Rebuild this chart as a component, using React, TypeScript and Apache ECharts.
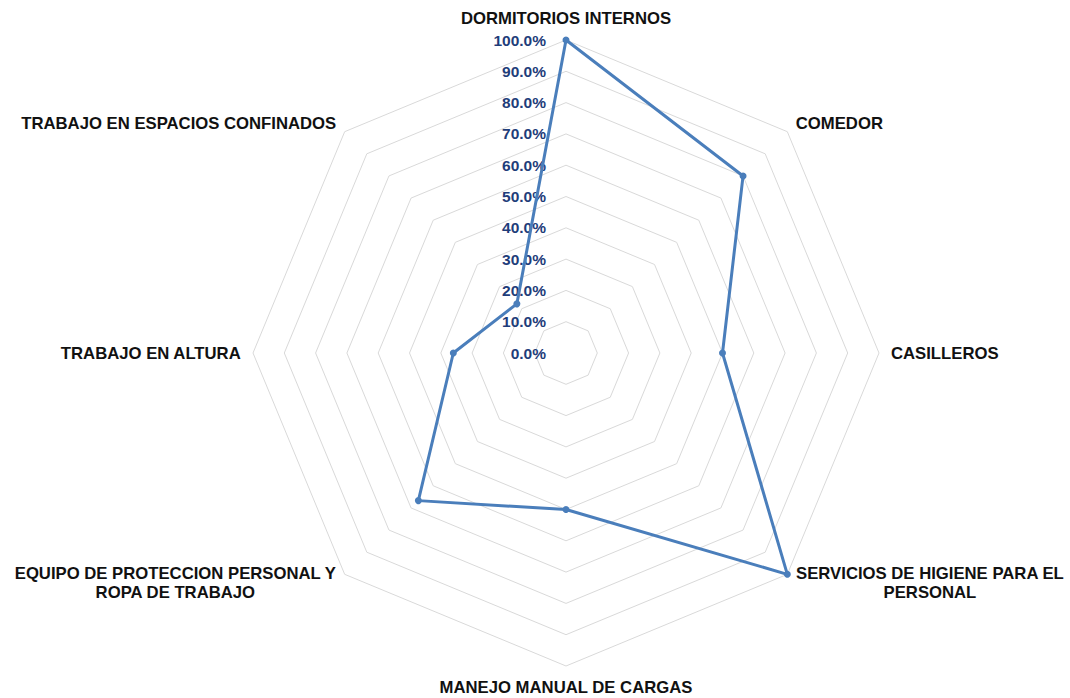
import React, { useEffect, useRef } from "react";
import * as echarts from "echarts";

// Categories in clockwise order starting from the top
const categories = [
  "DORMITORIOS INTERNOS",
  "COMEDOR",
  "CASILLEROS",
  "SERVICIOS DE HIGIENE PARA EL\nPERSONAL",
  "MANEJO MANUAL DE CARGAS",
  "EQUIPO DE PROTECCION PERSONAL Y\nROPA DE TRABAJO",
  "TRABAJO EN ALTURA",
  "TRABAJO EN ESPACIOS CONFINADOS",
];

// Percent values, same clockwise order
const values = [100, 80, 50, 100, 50, 66.7, 36, 22.2];

const tickLabels = [
  "0.0%", "10.0%", "20.0%", "30.0%", "40.0%", "50.0%",
  "60.0%", "70.0%", "80.0%", "90.0%", "100.0%",
];

const AXIS_MAX = 100;

// ECharts places radar indicators counter-clockwise; reorder for clockwise display
function toEchartsOrder<T>(arr: T[]): T[] {
  return [arr[0], ...arr.slice(1).reverse()];
}

const FONT = "Liberation Sans, Arial, sans-serif";

export default function App() {
  const ref = useRef<HTMLDivElement>(null);

  useEffect(() => {
    if (!ref.current) return;
    const chart = echarts.init(ref.current, undefined, { renderer: "svg" });
    const cats = toEchartsOrder(categories);
    const vals = toEchartsOrder(values);
    const indicator = cats.map((name, i) => {
      const ind: any = { name, min: 0, max: AXIS_MAX };
      if (i === 0) {
        ind.axisLabel = {
          show: true,
          color: "#1f3d7a",
          fontWeight: "bold",
          fontSize: 15.5,
          fontFamily: FONT,
          margin: 20,
          formatter: (v: number) => tickLabels[Math.round(v / 10)],
        };
      }
      return ind;
    });

    chart.setOption({
      animation: false,
      backgroundColor: "#ffffff",
      radar: {
        center: [566, 353],
        radius: 313,
        startAngle: 90,
        splitNumber: 10,
        shape: "polygon",
        indicator,
        axisName: {
          color: "#111111",
          fontWeight: "bold",
          fontSize: 16.7,
          fontFamily: FONT,
          formatter: (name: string) =>
            name
              .split("\n")
              .map((l) => `{c|${l}}`)
              .join("\n"),
          rich: {
            c: {
              align: "center",
              color: "#111111",
              fontWeight: "bold",
              fontSize: 16.7,
              lineHeight: 19,
              fontFamily: FONT,
            },
          },
        },
        nameGap: 12,
        axisLine: { show: false },
        axisTick: { show: false },
        axisLabel: { show: false },
        splitLine: { lineStyle: { color: "#d9d9d9", width: 1 } },
        splitArea: { show: false },
      },
      series: [
        {
          type: "radar",
          symbol: "circle",
          symbolSize: 7,
          lineStyle: { color: "#4a7ebb", width: 3 },
          itemStyle: { color: "#4a7ebb" },
          data: [{ value: vals }],
        },
      ],
    });
    return () => chart.dispose();
  }, []);

  return (
    <div
      ref={ref}
      style={{ position: "absolute", left: 0, top: 0, width: 1070, height: 698 }}
    />
  );
}
